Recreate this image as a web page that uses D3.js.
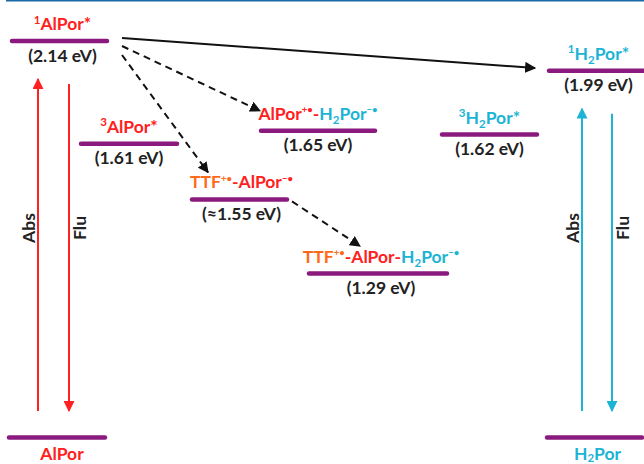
<!DOCTYPE html>
<html><head><meta charset="utf-8">
<script src="https://cdn.jsdelivr.net/npm/d3@7"></script>
<style>
body{margin:0;background:#fff}
svg{display:block}
text{font-family:Lato,"Open Sans",sans-serif;font-weight:bold}
</style>
</head><body>
<svg id="c" width="644" height="464"></svg>
<script>
// ---------------- data ----------------
const levelIds = ["S1Al","S1H2","T1Al","CS1","T1H2","CS2","CS3","S0Al","S0H2"];
const levelEnergyText = ["2.14 eV","1.99 eV","1.61 eV","1.65 eV","1.62 eV","≈1.55 eV","1.29 eV",null,null];
// schematic vertical position of each level in the diagram (eV units)
const levelDiagramE = [2.14, 1.98, 1.585, 1.655, 1.635, 1.285, 0.885, 0, 0];
// label segments: [text, species, mode]
const levelLabels = [
  [["1","Al","sup"],["AlPor*","Al",""]],
  [["1","H2","sup"],["H","H2",""],["2","H2","sub"],["Por*","H2",""]],
  [["3","Al","sup"],["AlPor*","Al",""]],
  [["AlPor","Al",""],["+•","Al","sup"],["-","Al",""],["H","H2",""],["2","H2","sub"],["Por","H2",""],["−•","H2","sup"]],
  [["3","H2","sup"],["H","H2",""],["2","H2","sub"],["Por*","H2",""]],
  [["TTF","TTF",""],["+•","TTF","sup"],["-AlPor","Al",""],["−•","Al","sup"]],
  [["TTF","TTF",""],["+•","TTF","sup"],["-AlPor-","Al",""],["H","H2",""],["2","H2","sub"],["Por","H2",""],["−•","H2","sup"]],
  [["AlPor","Al",""]],
  [["H","H2",""],["2","H2","sub"],["Por","H2",""]]
];
// electron/energy transfer arrows between levels
const transferFrom = ["S1Al","S1Al","S1Al","CS2"];
const transferTo   = ["S1H2","CS1","CS2","CS3"];
const transferDashed = [false,true,true,true];
// optical transitions
const opticalName = ["Abs","Flu","Abs","Flu"];
const opticalFrom = ["S0Al","S1Al","S0H2","S1H2"];
const opticalTo   = ["S1Al","S0Al","S1H2","S0H2"];
const opticalSpecies = ["Al","Al","H2","H2"];

// ---------------- layout / style ----------------
const W = 644, H = 464;
const FS = 17.5;
const speciesColor = {Al:"#ff2020", H2:"#1cb4d4", TTF:"#ff6a1a"};
const levelColor = "#8a1a7e";
const levelX = {S1Al:[12,107],S1H2:[549,648],T1Al:[81,177],CS1:[261,375],T1H2:[442,537],
                CS2:[192,287],CS3:[309,447],S0Al:[9,105],S0H2:[547,642]};
const labelDx = {S1Al:3,S1H2:0,T1Al:0,CS1:0,T1H2:0,CS2:2,CS3:3,S0Al:5,S0H2:3};
const opticalX = [38,69,582,612];
const startOff = [[15,-3],[15,5],[15,14],[5,2]];
const endOff   = [[-14,-2.6],[-1,-20],[16,-27],[51,-27.5]];

const svg = d3.select("#c");
const y = d3.scaleLinear().domain([0, 2.14]).range([437.5, 41]);
const x = d3.scaleLinear().domain([0, W]).range([0, W]);

// top rule
svg.append("line").attr("x1",6).attr("x2",W).attr("y1",0.8).attr("y2",0.8)
  .attr("stroke","#1a6aa8").attr("stroke-width",1.6);

const defs = svg.append("defs");
function marker(id,color){
  defs.append("marker").attr("id",id).attr("viewBox","0 0 10 10")
    .attr("refX",9).attr("refY",5).attr("markerWidth",5.5).attr("markerHeight",5.5)
    .attr("markerUnits","strokeWidth").attr("orient","auto")
    .append("path").attr("d","M0,0 L10,5 L0,10 z").attr("fill",color);
}
marker("mk","#111");
marker("mr",speciesColor.Al);
marker("mc",speciesColor.H2);

const L = {};
levelIds.forEach((id,i)=>{
  L[id] = {x0:x(levelX[id][0]), x1:x(levelX[id][1]), y:y(levelDiagramE[i]), i};
  L[id].cx = (L[id].x0+L[id].x1)/2;
});

// levels
svg.selectAll("line.level").data(levelIds).join("line").attr("class","level")
  .attr("x1",d=>L[d].x0).attr("x2",d=>L[d].x1)
  .attr("y1",d=>L[d].y).attr("y2",d=>L[d].y)
  .attr("stroke",levelColor).attr("stroke-width",4.5).attr("stroke-linecap","round");

// labels
function richText(g, segs, cx, by, subShift){
  const t = g.append("text").attr("x",cx).attr("y",by).attr("text-anchor","middle")
    .attr("font-size",FS);
  let cur = 0;
  segs.forEach(([s,sp,mode])=>{
    const radical = /•/.test(s);
    let target = mode==="sup" ? -6.5 : mode==="sub" ? subShift : 0;
    t.append("tspan").attr("dy",target-cur)
      .attr("font-size",mode ? (radical ? 9.5 : 11.5) : FS)
      .attr("fill",speciesColor[sp]).text(s);
    cur = target;
  });
  return t;
}
const lg = svg.append("g");
levelIds.forEach((id,i)=>{
  const d = L[id];
  const ground = levelDiagramE[i]===0;
  richText(lg, levelLabels[i], d.cx+labelDx[id], ground ? d.y+22 : d.y-11, ground ? 2.5 : 4);
  if(levelEnergyText[i]) {
    lg.append("text").attr("x",d.cx+labelDx[id]).attr("y",d.y+20.5).attr("text-anchor","middle")
      .attr("font-size",FS).attr("fill","#222").text("("+levelEnergyText[i]+")");
  }
});

// transfer arrows
transferFrom.forEach((f,i)=>{
  const t = transferTo[i];
  const x1 = L[f].x1 + startOff[i][0], y1 = L[f].y + startOff[i][1];
  const x2 = L[t].x0 + endOff[i][0], y2 = L[t].y + endOff[i][1];
  svg.append("line").attr("x1",x1).attr("y1",y1).attr("x2",x2).attr("y2",y2)
    .attr("stroke","#111").attr("stroke-width",2)
    .attr("stroke-dasharray",transferDashed[i]?"7,5":null)
    .attr("marker-end","url(#mk)");
});

// optical transitions
opticalName.forEach((n,i)=>{
  const f = L[opticalFrom[i]], t = L[opticalTo[i]];
  const xx = opticalX[i];
  const up = n==="Abs";
  const yTop = up ? t.y + 38 : f.y + 43;
  const yBot = 411;
  const col = speciesColor[opticalSpecies[i]];
  svg.append("line").attr("x1",xx).attr("x2",xx)
    .attr("y1", up ? yBot : yTop).attr("y2", up ? yTop : yBot)
    .attr("stroke",col).attr("stroke-width",2)
    .attr("marker-end", opticalSpecies[i]==="Al" ? "url(#mr)" : "url(#mc)");
  const tx = up ? xx-3 : xx+17;
  svg.append("text").attr("transform",`translate(${tx},228) rotate(-90)`)
    .attr("text-anchor","middle").attr("font-size",FS).attr("fill","#222").text(n);
});
</script>
</body></html>
